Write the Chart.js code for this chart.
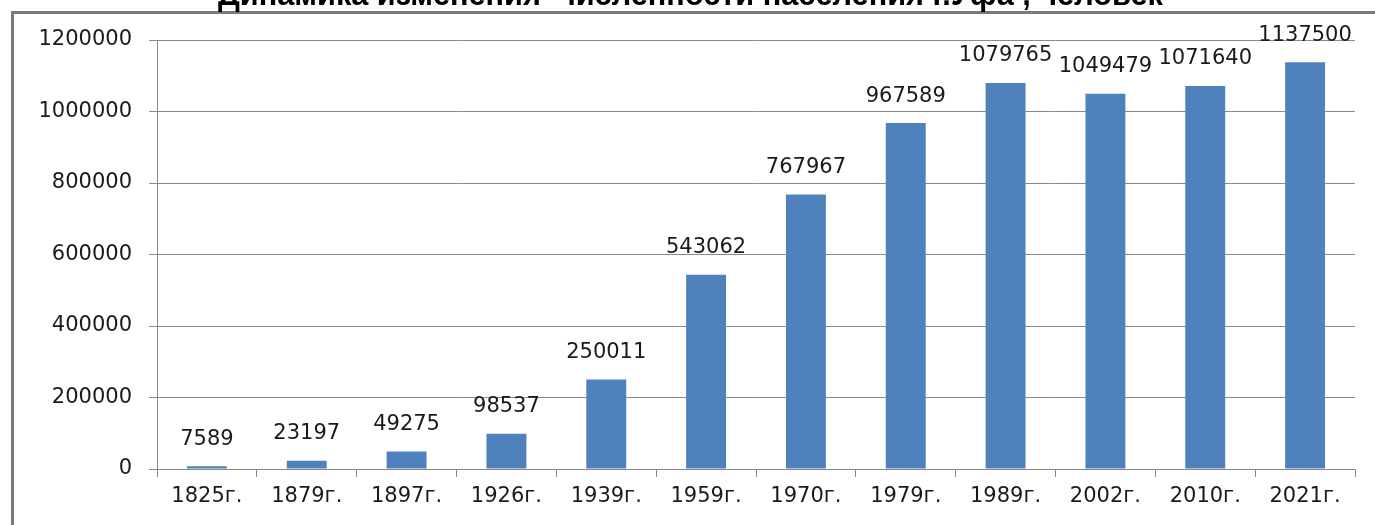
<!DOCTYPE html>
<html>
<head>
<meta charset="utf-8">
<script src="https://cdn.jsdelivr.net/npm/chart.js@4.4.1/dist/chart.umd.min.js"></script>
<style>
  html, body { margin: 0; padding: 0; background: #fff; }
  #wrap { width: 1375px; height: 525px; position: relative; }
</style>
</head>
<body>
<div id="wrap"><canvas id="populationChart"></canvas></div>
<script>
// --- data ---
const years = ["1825г.", "1879г.", "1897г.", "1926г.", "1939г.", "1959г.",
               "1970г.", "1979г.", "1989г.", "2002г.", "2010г.", "2021г."];
const population = [7589, 23197, 49275, 98537, 250011, 543062,
                    767967, 967589, 1079765, 1049479, 1071640, 1137500];
const yTicks = [0, 200000, 400000, 600000, 800000, 1000000, 1200000];
const chartTitle = "Динамика изменения  численности населения г.Уфа , человек";

const labelFont = "21px 'DejaVu Sans'";

// frame lines + cut-off title at the very top
const framePlugin = {
  id: "frame",
  afterDraw(chart) {
    const ctx = chart.ctx;
    ctx.save();
    ctx.fillStyle = "#7a7a7a";
    ctx.fillRect(11, 11, chart.width - 11, 3);   // top edge
    ctx.fillRect(11, 11, 3, chart.height - 11);  // left edge

    // title: fit it to the width seen in the picture
    ctx.font = "bold 24px 'Liberation Sans'";
    const w = ctx.measureText(chartTitle).width;
    const size = 24 * 944 / w;
    ctx.font = "bold " + size.toFixed(1) + "px 'Liberation Sans'";
    ctx.fillStyle = "#000";
    ctx.textAlign = "left";
    ctx.textBaseline = "alphabetic";
    ctx.fillText(chartTitle, 218, 5);
    ctx.restore();
  },
};

// value labels above each bar
const valueLabels = {
  id: "valueLabels",
  afterDatasetsDraw(chart) {
    const ctx = chart.ctx;
    const meta = chart.getDatasetMeta(0);
    ctx.save();
    ctx.font = labelFont;
    ctx.fillStyle = "#1a1a1a";
    ctx.textAlign = "center";
    ctx.textBaseline = "middle";
    meta.data.forEach((bar, i) => {
      ctx.fillText(String(population[i]), bar.x, bar.y - 27);
    });
    ctx.restore();
  },
};

new Chart(document.getElementById("populationChart"), {
  type: "bar",
  data: {
    labels: years,
    datasets: [
      {
        label: "Численность",
        data: population,
        backgroundColor: "#4F81BD",
        borderWidth: 0,
        barPercentage: 0.4,
        categoryPercentage: 1.0,
      },
    ],
  },
  options: {
    responsive: true,
    maintainAspectRatio: false,
    animation: false,
    layout: { padding: { left: 0, top: 40, right: 20, bottom: 0 } },
    plugins: {
      legend: { display: false },
      tooltip: { enabled: false },
    },
    scales: {
      x: {
        afterFit: (s) => { s.height = 56; },
        border: { display: true, color: "#8a8a8a", width: 1 },
        grid: {
          offset: true,
          drawOnChartArea: false,
          drawTicks: true,
          tickLength: 8,
          color: "#8a8a8a",
        },
        ticks: {
          font: { family: "DejaVu Sans", size: 21 },
          color: "#1a1a1a",
          padding: 7,
          maxRotation: 0,
          autoSkip: false,
        },
      },
      y: {
        min: 0,
        max: 1200000,
        afterFit: (s) => { s.width = 157; },
        afterBuildTicks: (s) => { s.ticks = yTicks.map((v) => ({ value: v })); },
        border: { display: true, color: "#8a8a8a", width: 1 },
        grid: {
          color: "#8a8a8a",
          lineWidth: 1,
          drawTicks: true,
          tickLength: 8,
        },
        ticks: {
          font: { family: "DejaVu Sans", size: 21 },
          color: "#1a1a1a",
          padding: 17,
          callback: (v) => String(v),
        },
      },
    },
  },
  plugins: [framePlugin, valueLabels],
});
</script>
</body>
</html>
